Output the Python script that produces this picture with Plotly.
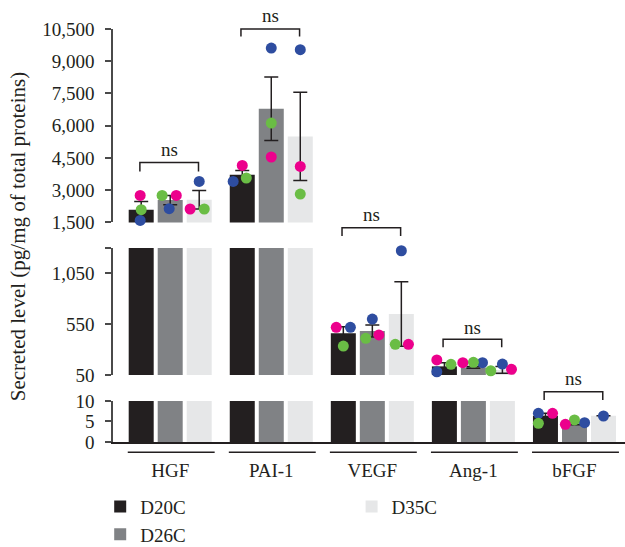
import plotly.graph_objects as go

# ---------------- data ----------------
CATEGORIES = ["HGF", "PAI-1", "VEGF", "Ang-1", "bFGF"]
GROUPS = ["D20C", "D26C", "D35C"]

# bar heights (mean) per group, in category order
BAR_D20C = [2091, 3719, 460, 135, 6.4]
BAR_D26C = [2540, 6790, 483, 125, 4.6]
BAR_D35C = [2556, 5502, 650, 100, 6.4]

# error bar half-lengths
ERR_D20C = [386, 200, 65, 35, 0.6]
ERR_D26C = [215, 1482, 58, 8, 0.4]
ERR_D35C = [433, 2057, 318, 33, 0]

# individual replicates (pink / green / blue), None = not shown
PINK_D20C = [2756, 4152, 519, 198, 7.0]
GREEN_D20C = [2091, 3566, 335, 155, 4.56]
BLUE_D20C = [1593, 3408, 519, 82, 7.0]
PINK_D26C = [2756, 4543, 444, 171, 4.3]
GREEN_D26C = [2756, 6125, 411, 175, 5.37]
BLUE_D26C = [2138, 9615, 601, 171, 4.7]
PINK_D35C = [2124, 4106, 352, 106, None]
GREEN_D35C = [2124, 2821, 352, 92, None]
BLUE_D35C = [3408, 9536, 1273, 158, 6.34]

# ---------------- styling / layout ----------------
FONT = "Liberation Serif"
INK = "#231f20"
AXIS = "#4a4a4a"
GROUP_COLORS = {"D20C": "#231f20", "D26C": "#808285", "D35C": "#e6e7e8"}
DOT_COLORS = {"pink": "#ec008c", "green": "#6abd45", "blue": "#2e4da0"}
GROUP_OFFSET = {"D20C": -0.287, "D26C": 0.0, "D35C": 0.287}

# horizontal spread of the replicate dots (category units)
JITTER = {
    "D20C": {"pink": [-0.01, 0, -0.07, -0.075, 0.07],
             "green": [0, 0.04, 0, 0.065, -0.07],
             "blue": [-0.01, -0.09, 0.07, -0.075, -0.07]},
    "D26C": {"pink": [0.06, 0, 0.065, -0.105, -0.09],
             "green": [-0.08, 0, -0.065, 0, 0],
             "blue": [-0.01, 0, 0, 0.09, 0.1]},
    "D35C": {"pink": [-0.09, 0, 0.07, 0.09, 0],
             "green": [0.05, 0, -0.06, -0.115, 0],
             "blue": [0, 0, 0, 0, 0]},
}

bars = {"D20C": (BAR_D20C, ERR_D20C), "D26C": (BAR_D26C, ERR_D26C), "D35C": (BAR_D35C, ERR_D35C)}
dots = {
    "D20C": {"pink": PINK_D20C, "green": GREEN_D20C, "blue": BLUE_D20C},
    "D26C": {"pink": PINK_D26C, "green": GREEN_D26C, "blue": BLUE_D26C},
    "D35C": {"pink": PINK_D35C, "green": GREEN_D35C, "blue": BLUE_D35C},
}

# broken y axis: three stacked segments
SEGMENTS = [
    dict(axis="y", rng=[0, 10], domain=[0.0, 0.0993],
         tickvals=[0, 5, 10], ticktext=["0", "5", "10"]),
    dict(axis="y2", rng=[50, 1300], domain=[0.1622, 0.4697],
         tickvals=[50, 550, 1050, 1300], ticktext=["50", "550", "1,050", ""]),
    dict(axis="y3", rng=[1500, 10500], domain=[0.5317, 1.0],
         tickvals=[1500, 3000, 4500, 6000, 7500, 9000, 10500],
         ticktext=["1,500", "3,000", "4,500", "6,000", "7,500", "9,000", "10,500"]),
]
SEG_BY_AXIS = {s["axis"]: s for s in SEGMENTS}

# significance brackets: (category index, axis, bracket level, leg end, label level)
BRACKETS = [
    (0, "y3", 4292, 3873, 4883),
    (1, "y3", 10500, 10155, 11132),
    (2, "y2", 1500, 1418, 1625),
    (3, "y2", 401, 323, 522),
    (4, "y", 12.27, 10.24, 15.37),
]

x_idx = list(range(len(CATEGORIES)))
fig = go.Figure()

for si, seg in enumerate(SEGMENTS):
    for g in GROUPS:
        vals, errs = bars[g]
        fig.add_trace(go.Bar(
            x=x_idx, y=vals, xaxis="x", yaxis=seg["axis"], name=g,
            marker=dict(color=GROUP_COLORS[g], line=dict(width=0)),
            error_y=dict(type="data", array=errs, visible=True, color=INK,
                         thickness=1.5, width=7),
            showlegend=(si == 0),
            legend="legend2" if g == "D35C" else "legend",
        ))

for seg in SEGMENTS:
    lo, hi = seg["rng"]
    for color in ["blue", "green", "pink"]:
        xs, ys = [], []
        for g in GROUPS:
            for i, v in enumerate(dots[g][color]):
                if v is not None and lo <= v <= hi:
                    xs.append(i + GROUP_OFFSET[g] + JITTER[g][color][i])
                    ys.append(v)
        fig.add_trace(go.Scatter(
            x=xs, y=ys, xaxis="x", yaxis=seg["axis"], mode="markers",
            marker=dict(size=11, color=DOT_COLORS[color], line=dict(width=0)),
            cliponaxis=False, showlegend=False,
        ))


def frac(axis, v):
    r0, r1 = SEG_BY_AXIS[axis]["rng"]
    return (v - r0) / (r1 - r0)


shapes = []
annotations = []
for idx, axis, top, leg, lab in BRACKETS:
    x0, x1 = idx - 0.30, idx + 0.28
    yt, yl = frac(axis, top), frac(axis, leg)
    shapes.append(dict(type="path", xref="x", yref=f"{axis} domain",
                       path=f"M{x0},{yl} L{x0},{yt} L{x1},{yt} L{x1},{yl}",
                       line=dict(color=INK, width=1.5)))
    annotations.append(dict(x=(x0 + x1) / 2, y=frac(axis, lab), xref="x",
                            yref=f"{axis} domain", text="ns", showarrow=False,
                            yanchor="middle", font=dict(family=FONT, size=19, color=INK)))

for idx in x_idx:
    shapes.append(dict(type="line", xref="x", yref="paper", x0=idx - 0.42, x1=idx + 0.44,
                       y0=-0.025, y1=-0.025, line=dict(color=INK, width=1.5)))

annotations.append(dict(text="Secreted level (pg/mg of total proteins)", textangle=-90,
                        xref="paper", yref="paper", x=-0.184, y=0.4976,
                        xanchor="center", yanchor="middle", showarrow=False,
                        font=dict(family=FONT, size=21, color=INK)))

layout_axes = {}
for seg in SEGMENTS:
    key = "yaxis" if seg["axis"] == "y" else "yaxis" + seg["axis"][1:]
    layout_axes[key] = dict(
        domain=seg["domain"], range=seg["rng"], anchor="x",
        tickmode="array", tickvals=seg["tickvals"], ticktext=seg["ticktext"],
        showline=True, linecolor=AXIS, linewidth=1.5,
        ticks="outside", ticklen=6, tickwidth=1.5, tickcolor=AXIS,
        showgrid=False, zeroline=False, ticklabelstandoff=7,
        tickfont=dict(family=FONT, size=19, color=INK),
    )

fig.update_layout(
    **layout_axes,
    xaxis=dict(domain=[0, 1], range=[-0.566, 4.5], anchor="y",
               tickmode="array", tickvals=x_idx, ticktext=CATEGORIES,
               showline=True, linecolor=INK, linewidth=1.5, ticks="",
               showgrid=False, zeroline=False, ticklabelstandoff=10,
               tickfont=dict(family=FONT, size=19, color=INK)),
    barmode="group", bargap=0.139, bargroupgap=0.138,
    width=625, height=547,
    margin=dict(l=113, r=0, t=29, b=105, autoexpand=False),
    plot_bgcolor="white", paper_bgcolor="white",
    font=dict(family=FONT, size=19, color=INK),
    shapes=shapes, annotations=annotations,
    legend=dict(x=-0.025, y=-0.1107, xanchor="left", yanchor="top",
                orientation="v", font=dict(family=FONT, size=19, color=INK),
                bgcolor="rgba(0,0,0,0)"),
    legend2=dict(x=0.466, y=-0.1107, xanchor="left", yanchor="top",
                 orientation="v", font=dict(family=FONT, size=19, color=INK),
                 bgcolor="rgba(0,0,0,0)"),
)

fig.write_html("out.html", config={"displayModeBar": False},
               post_script="document.body.style.margin='0';")
